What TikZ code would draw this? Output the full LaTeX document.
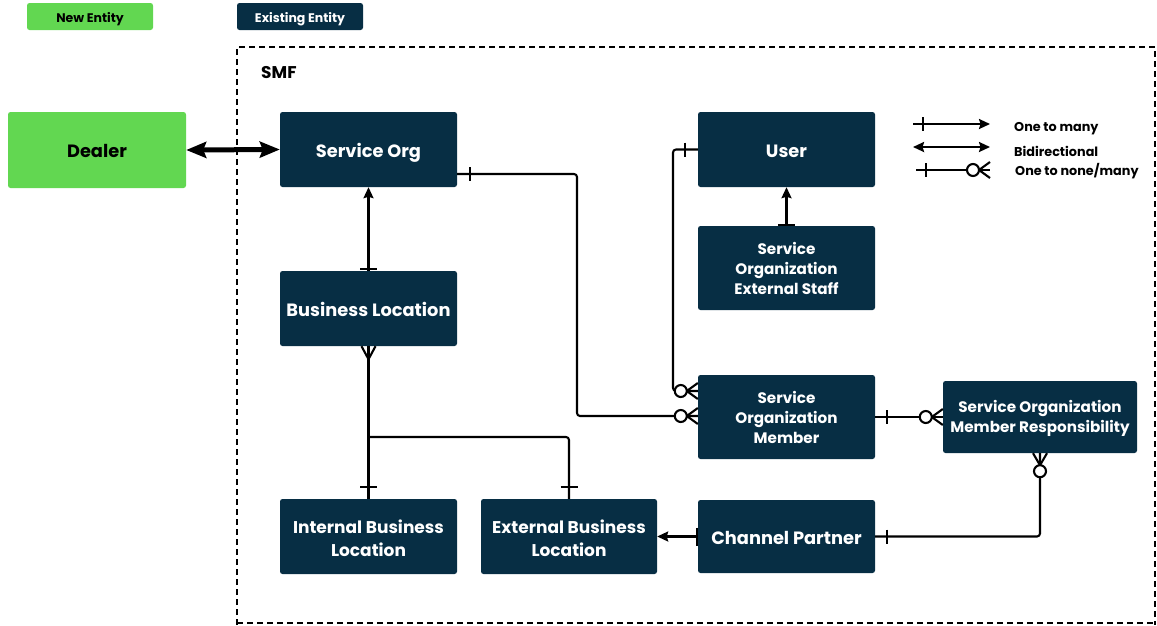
\documentclass[tikz,border=0pt]{standalone}
\usepackage{fontspec}
\setmainfont{Poppins}
\usetikzlibrary{arrows.meta,calc}
\definecolor{navy}{HTML}{072E44}
\definecolor{newgreen}{HTML}{62D751}
\newcommand\barV[1]{\draw[conn] ($(#1)+(0,-7)$) -- ($(#1)+(0,7)$);}
\newcommand\barH[1]{\draw[conn] ($(#1)+(-8.5,0)$) -- ($(#1)+(8.5,0)$);}
\newcommand\crowE[1]{\draw[conn] ($(#1)+(0,-8)$) -- ($(#1)+(-11,0)$) -- ($(#1)+(0,8)$);
  \draw[conn,fill=white] ($(#1)+(-17,0)$) circle[radius=6pt];}
\newcommand\crowUp[1]{\draw[conn] ($(#1)+(-7,0)$) -- ($(#1)+(0,13)$) -- ($(#1)+(7,0)$);}
\newcommand\crowUpC[1]{\draw[conn] ($(#1)+(-7,0)$) -- ($(#1)+(0,12)$) -- ($(#1)+(7,0)$);
  \draw[conn,fill=white] ($(#1)+(0,18)$) circle[radius=6pt];}
\begin{document}
\begin{tikzpicture}[x=1pt,y=-1pt,
  box/.style={fill=navy,rounded corners=2.5pt,text=white,font=\bfseries\fontsize{17}{22.5}\selectfont,align=center,inner sep=0pt},
  onebox/.style={box,font=\bfseries\fontsize{17.8}{22}\selectfont,text height=15pt,text depth=0pt},
  sbox/.style={box,font=\bfseries\fontsize{15.2}{20}\selectfont},
  legbox/.style={box,font=\bfseries\fontsize{12.5}{14}\selectfont,text height=11.8pt,text depth=0pt,minimum width=126pt,minimum height=27pt},
  conn/.style={line width=2.1pt,line join=round},
  tip/.style={-{Stealth[length=11pt,width=10pt,inset=1.5pt]}},
  legtext/.style={anchor=west,font=\bfseries\fontsize{12.8}{14}\selectfont,inner sep=0pt}]
\useasboundingbox (0,0) rectangle (1157,625);
% legend boxes
\node[legbox,fill=newgreen,text=black] (ne) at (90,16.5) {New Entity};
\node[legbox] (ee) at (300,16.5) {Existing Entity};
% frame
\draw[line width=1.3pt,dash pattern=on 6pt off 4pt] (237,625) -- (237,47) -- (1155,47) -- (1155,625);
\draw[line width=1.3pt,dash pattern=on 6pt off 4pt] (237,623) -- (1155,623);
\node[anchor=west,font=\bfseries\fontsize{17}{18}\selectfont,inner sep=0pt] (smf) at (261,73) {SMF};
% entities
\node[onebox,fill=newgreen,text=black,minimum width=178pt,minimum height=76pt] (dealer) at (97,150) {Dealer};
\node[onebox,minimum width=177pt,minimum height=75pt] (so) at (368.5,149.5) {Service Org};
\node[onebox,minimum width=177pt,minimum height=75pt] (bl) at (368.5,308.5) {Business Location};
\node[onebox,minimum width=177pt,minimum height=75pt] (user) at (786.5,149.5) {User};
\node[sbox,minimum width=177pt,minimum height=84pt] (staff) at (786.5,268) {Service\\Organization\\External Staff};
\node[sbox,minimum width=177pt,minimum height=84pt] (som) at (786.5,417) {Service\\Organization\\Member};
\node[sbox,minimum width=194pt,minimum height=72pt] (somr) at (1040,417) {\rule{0pt}{15pt}Service Organization\\Member Responsibility};
\node[box,minimum width=177pt,minimum height=75pt] (ibl) at (368.5,536.5) {\rule{0pt}{17.5pt}Internal Business\\Location};
\node[box,minimum width=176pt,minimum height=75pt] (ebl) at (569,536.5) {\rule{0pt}{17.5pt}External Business\\Location};
\node[onebox,minimum width=177pt,minimum height=73pt] (cp) at (786.5,536.5) {Channel Partner};
% dealer <-> service org
\draw[line width=5pt,{Stealth[length=20pt,width=16pt,inset=3pt]}-{Stealth[length=20pt,width=16pt,inset=3pt]}] (dealer.east) -- (so.west);
% business location -> service org
\draw[conn,tip] (bl.north) -- (so.south);
\coordinate (t1) at ($(bl.north)+(0,-2)$); \barH{t1}
% staff -> user
\draw[conn,tip] (staff.north) -- (user.south);
\coordinate (t2) at ($(staff.north)+(0,-1)$); \barH{t2}
% service org -> member
\coordinate (soR) at ($(so.east)+(0,24.5)$);
\coordinate (somA) at ($(som.west)+(0,-1)$);
\draw[conn,rounded corners=3pt] (soR) -- (577,174) -- (577,416) -- (somA);
\coordinate (t3) at ($(soR)+(13,0)$); \barV{t3}
\crowE{somA}
% user -> member
\coordinate (somB) at ($(som.west)+(0,-26)$);
\draw[conn,rounded corners=3pt] (user.west) -- (673,149.5) -- (673,391) -- (somB);
\coordinate (t4) at ($(user.west)+(-13,0)$); \barV{t4}
\crowE{somB}
% member -> responsibility
\draw[conn] (som.east) -- (somr.west);
\coordinate (t5) at ($(som.east)+(12,0)$); \barV{t5}
\crowE{somr.west}
% channel partner -> responsibility
\draw[conn,rounded corners=3pt] (cp.east) -- (1040,536.5) -- (somr.south);
\coordinate (t6) at ($(cp.east)+(12,0)$); \barV{t6}
\crowUpC{somr.south}
% channel partner -> external BL
\draw[conn,tip] (cp.west) -- (ebl.east);
\draw[conn] ($(cp.west)+(-1,-9)$) -- ($(cp.west)+(-1,9)$);
% internal / external BL -> BL
\draw[conn] (ibl.north) -- (bl.south);
\draw[conn,rounded corners=3pt] (ebl.north) -- (569,437) -- (368.5,437);
\coordinate (t7) at ($(ibl.north)+(0,-12)$); \barH{t7}
\coordinate (t8) at ($(ebl.north)+(0,-12)$); \barH{t8}
\crowUp{bl.south}
% legend
\coordinate (l1a) at (913,124); \coordinate (l1b) at (990,124);
\draw[conn,tip] (l1a) -- (l1b);
\coordinate (l1t) at (923,124); \barV{l1t}
\coordinate (l2a) at (913,147); \coordinate (l2b) at (990,147);
\draw[conn,{Stealth[length=11pt,width=10pt,inset=1.5pt]}-{Stealth[length=11pt,width=10pt,inset=1.5pt]}] (l2a) -- (l2b);
\coordinate (l3a) at (916,170); \coordinate (l3b) at (990,170);
\draw[conn] (l3a) -- (l3b);
\coordinate (l3t) at (926,170); \barV{l3t}
\crowE{l3b}
\node[legtext] (lg1) at (1014,128.5) {One to many};
\node[legtext] (lg2) at (1014,151) {Bidirectional};
\node[legtext] (lg3) at (1015,171) {One to none/many};
\end{tikzpicture}
\end{document}
